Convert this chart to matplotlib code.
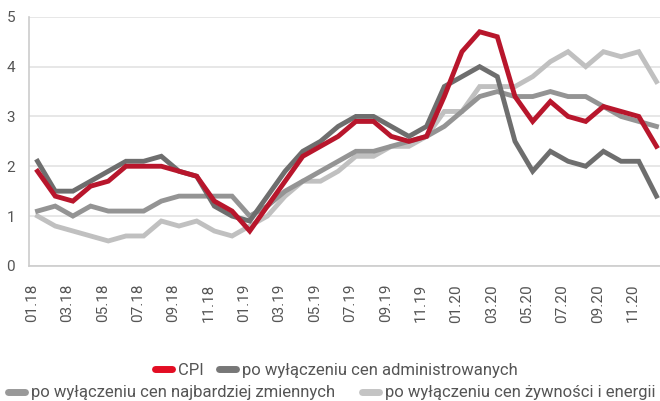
import numpy as np
import matplotlib.pyplot as plt
import matplotlib.transforms as mtrans
from matplotlib.lines import Line2D

plt.rcParams['font.family'] = ['Roboto', 'DejaVu Sans']

months = [f'{m:02d}.{y}' for y in (18, 19, 20) for m in range(1, 13)]

cpi = [1.9, 1.4, 1.3, 1.6, 1.7, 2.0, 2.0, 2.0, 1.9, 1.8, 1.3, 1.1,
       0.7, 1.2, 1.7, 2.2, 2.4, 2.6, 2.9, 2.9, 2.6, 2.5, 2.6, 3.4,
       4.3, 4.7, 4.6, 3.4, 2.9, 3.3, 3.0, 2.9, 3.2, 3.1, 3.0, 2.4]
ex_admin = [2.1, 1.5, 1.5, 1.7, 1.9, 2.1, 2.1, 2.2, 1.9, 1.8, 1.2, 1.0,
            0.9, 1.4, 1.9, 2.3, 2.5, 2.8, 3.0, 3.0, 2.8, 2.6, 2.8, 3.6,
            3.8, 4.0, 3.8, 2.5, 1.9, 2.3, 2.1, 2.0, 2.3, 2.1, 2.1, 1.4]
ex_volatile = [1.1, 1.2, 1.0, 1.2, 1.1, 1.1, 1.1, 1.3, 1.4, 1.4, 1.4, 1.4,
               1.0, 1.2, 1.5, 1.7, 1.9, 2.1, 2.3, 2.3, 2.4, 2.5, 2.6, 2.8,
               3.1, 3.4, 3.5, 3.4, 3.4, 3.5, 3.4, 3.4, 3.2, 3.0, 2.9, 2.8]
ex_food_energy = [1.0, 0.8, 0.7, 0.6, 0.5, 0.6, 0.6, 0.9, 0.8, 0.9, 0.7, 0.6,
                  0.8, 1.0, 1.4, 1.7, 1.7, 1.9, 2.2, 2.2, 2.4, 2.4, 2.6, 3.1,
                  3.1, 3.6, 3.6, 3.6, 3.8, 4.1, 4.3, 4.0, 4.3, 4.2, 4.3, 3.7]

labels = ['CPI', 'po wyłączeniu cen administrowanych',
          'po wyłączeniu cen najbardziej zmiennych',
          'po wyłączeniu cen żywności i energii']

x = np.arange(len(months))
txt = '#555555'

fig = plt.figure(figsize=(6.6, 4.01), dpi=100)
ax = fig.add_axes([0.044, 0.337, 0.956, 0.621])

ax.plot(x, ex_food_energy, color='#c0c0c0', lw=3.5, solid_joinstyle='miter')
ax.plot(x, ex_volatile, color='#949494', lw=3.5, solid_joinstyle='miter')
ax.plot(x, ex_admin, color='#6e6e6e', lw=3.5, solid_joinstyle='miter')
ax.plot(x, cpi, color='#b8162c', lw=3.5, solid_joinstyle='miter')

ax.set_xlim(-0.48, 35.2)
ax.set_ylim(0, 5)
ax.set_yticks(range(6))
ax.set_xticks(x[::2])
ax.set_xticklabels(months[::2], rotation=90)
ax.tick_params(length=0, labelsize=11, labelcolor=txt)
ax.tick_params(axis='x', pad=13)
ax.tick_params(axis='y', pad=10)
# labels sit a little left of their points in the reference
shift = mtrans.ScaledTranslation(-4 / 72, 0, fig.dpi_scale_trans)
for lab in ax.get_xticklabels():
    lab.set_transform(lab.get_transform() + shift)
ax.grid(axis='y', color='#e3e3e3', lw=1.2)
ax.set_axisbelow(True)
for s in ('top', 'right'):
    ax.spines[s].set_visible(False)
for s in ('left', 'bottom'):
    ax.spines[s].set_color('#cccccc')
    ax.spines[s].set_linewidth(1.2)

def handle(c):
    return Line2D([], [], color=c, lw=5, solid_capstyle='round')

leg1 = fig.legend([handle('#e30d23'), handle('#777777')], labels[:2],
                  loc='center', bbox_to_anchor=(0.51, 0.077), ncol=2,
                  frameon=False, fontsize=12, handlelength=1.0,
                  handletextpad=0.4, columnspacing=0.9, labelcolor=txt,
                  borderpad=0)
leg2 = fig.legend([handle('#999999'), handle('#c4c4c4')], labels[2:],
                  loc='center left', bbox_to_anchor=(0.012, 0.02), ncol=2,
                  frameon=False, fontsize=12, handlelength=1.0,
                  handletextpad=0.4, columnspacing=1.6, labelcolor=txt,
                  borderpad=0, borderaxespad=0)

fig.savefig('out.png', dpi=100)
